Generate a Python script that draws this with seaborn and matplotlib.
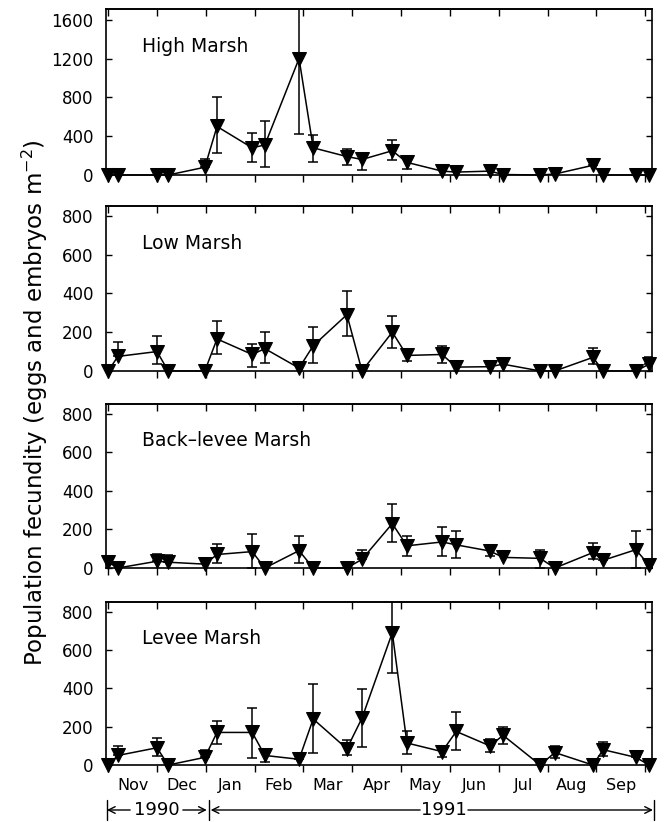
import numpy as np
import pandas as pd
import seaborn as sns
import matplotlib.pyplot as plt
import matplotlib.transforms as mtransforms

# sampling dates, in months since 1 Nov 1990
sample_month = [0.0, 0.2, 1.0, 1.23, 1.98, 2.23, 2.95, 3.21, 3.91, 4.2, 4.89, 5.2,
                5.82, 6.12, 6.84, 7.13, 7.82, 8.09, 8.85, 9.15, 9.93, 10.14, 10.81, 11.08]

# fecundity (eggs and embryos m-2); lo/hi = ends of the error bar, None = no bar
high_marsh = [0, 0, 0, 0, 80, 500, 280, 310, 1200, 280, 190, 160,
              250, 130, 40, 30, 40, 5, 0, 10, 100, 0, 0, 0]
high_marsh_lo = [None, None, None, None, 80, 230, 130, 85, 420, 135, 100, 50,
                 150, 65, None, None, None, None, None, None, 100, None, None, None]
high_marsh_hi = [None, None, None, None, 160, 800, 430, 560, 1800, 410, 265, 230,
                 360, 190, None, None, None, None, None, None, 170, None, None, None]

low_marsh = [0, 75, 100, 0, 0, 165, 85, 115, 15, 130, 290, 0,
             200, 80, 85, 20, 22, 35, 0, 0, 70, 0, 0, 35]
low_marsh_lo = [None, 75, 35, None, None, 85, 20, 40, None, 40, 180, None,
                120, 50, 40, None, None, None, None, None, 35, None, None, 35]
low_marsh_hi = [None, 150, 180, None, None, 255, 140, 200, None, 225, 410, None,
                285, 115, 130, None, None, None, None, None, 120, None, None, 70]

back_levee = [30, 0, 35, 30, 20, 70, 85, 0, 90, 0, 0, 45,
              230, 115, 135, 120, 88, 55, 50, 0, 80, 40, 95, 15]
back_levee_lo = [30, None, 35, 30, None, 25, 0, None, 25, None, None, 45,
                 135, 60, 60, 50, 60, None, 0, None, 45, 40, 0, None]
back_levee_hi = [60, None, 70, 65, None, 125, 175, None, 165, None, None, 95,
                 330, 165, 212, 190, 120, None, 95, None, 130, 75, 190, None]

levee = [0, 50, 90, 0, 40, 170, 170, 50, 30, 240, 85, 245,
         690, 115, 70, 175, 100, 155, 0, 65, 0, 80, 40, 0]
levee_lo = [None, 50, 45, None, 40, 110, 35, 15, 30, 65, 50, 95,
            480, 60, 40, 80, 70, 110, None, 35, None, 45, 40, None]
levee_hi = [None, 100, 140, None, 80, 230, 300, 80, 60, 420, 130, 395,
            900, 180, 100, 275, 135, 200, None, 100, None, 120, 50, None]

month_labels = ["Nov", "Dec", "Jan", "Feb", "Mar", "Apr", "May", "Jun", "Jul", "Aug", "Sep"]
month_ticks = np.arange(0, 12)

sns.set_theme(style="ticks", rc={
    "axes.edgecolor": "black",
    "axes.linewidth": 1.2,
    "xtick.color": "black",
    "ytick.color": "black",
    "text.color": "black",
})
plt.rcParams["font.family"] = ["DejaVu Sans"]

fig = plt.figure(figsize=(6.64, 8.22), dpi=100)

boxes = [(0.7871, 0.2019), (0.5487, 0.2007), (0.3090, 0.1995), (0.0693, 0.1983)]
panels = [
    ("High Marsh", high_marsh, high_marsh_lo, high_marsh_hi, 1710, [0, 400, 800, 1200, 1600]),
    ("Low Marsh", low_marsh, low_marsh_lo, low_marsh_hi, 850, [0, 200, 400, 600, 800]),
    ("Back\u2013levee Marsh", back_levee, back_levee_lo, back_levee_hi, 850, [0, 200, 400, 600, 800]),
    ("Levee Marsh", levee, levee_lo, levee_hi, 850, [0, 200, 400, 600, 800]),
]

axes = []
for (bottom, height), (name, vals, lo, hi, ytop, yticks) in zip(boxes, panels):
    ax = fig.add_axes([0.1596, bottom, 0.8223, height])
    axes.append(ax)

    df = pd.DataFrame({"month": sample_month, "value": vals})

    keep = [i for i in range(len(vals)) if lo[i] is not None]
    xe = [sample_month[i] for i in keep]
    ye = [vals[i] for i in keep]
    err = [[vals[i] - lo[i] for i in keep], [hi[i] - vals[i] for i in keep]]
    ax.errorbar(xe, ye, yerr=err, fmt="none", ecolor="black", elinewidth=1.1,
                capsize=3.5, capthick=1.1, zorder=2)

    sns.lineplot(data=df, x="month", y="value", ax=ax, color="black", lw=1.1,
                 marker="v", markersize=9.5, markeredgecolor="black",
                 clip_on=False, zorder=3)

    ax.set_xlim(-0.045, 11.14)
    ax.set_ylim(0, ytop)
    ax.set_xticks(month_ticks)
    ax.set_yticks(yticks)
    ax.set_xlabel("")
    ax.set_ylabel("")
    ax.tick_params(axis="x", which="major", direction="out", length=5, width=1,
                   labelbottom=False)
    ax.tick_params(axis="y", direction="in", length=4, width=1, left=True,
                   right=True, labelsize=12, pad=9)
    top = ax.secondary_xaxis("top")
    top.set_xticks(month_ticks)
    top.tick_params(direction="in", length=5, width=1, labeltop=False)

    ax.text(0.066, 0.775, name, transform=ax.transAxes, fontsize=13.5,
            va="center", ha="left")

# month names on the bottom panel
ax = axes[-1]
ax.set_xticks(np.arange(11) + 0.5, labels=month_labels, minor=True)
ax.tick_params(axis="x", which="minor", length=0, labelsize=11.5, pad=9)

# year brackets under the month names
trans = mtransforms.blended_transform_factory(ax.transData, fig.transFigure)
for xb in [-0.025, 2.066, 11.18]:
    ax.plot([xb, xb], [0.002, 0.027], transform=trans, color="black", lw=1,
            clip_on=False)
ax.text(1.0, 0.0146, "1990", transform=trans, fontsize=13, ha="center", va="center")
ax.text(6.88, 0.0146, "1991", transform=trans, fontsize=13, ha="center", va="center")
arrows = [(0.45, -0.025), (1.53, 2.02), (6.39, 2.1), (7.37, 11.16)]
for x0, x1 in arrows:
    ax.annotate("", xy=(x1, 0.0146), xytext=(x0, 0.0146), xycoords=trans,
                textcoords=trans,
                arrowprops=dict(arrowstyle="->", lw=1, color="black",
                                shrinkA=0, shrinkB=0))

fig.text(0.053, 0.51, "Population fecundity (eggs and embryos m$^{-2}$)",
         rotation=90, va="center", ha="center", fontsize=16.5)

plt.savefig("out.png", dpi=100)
